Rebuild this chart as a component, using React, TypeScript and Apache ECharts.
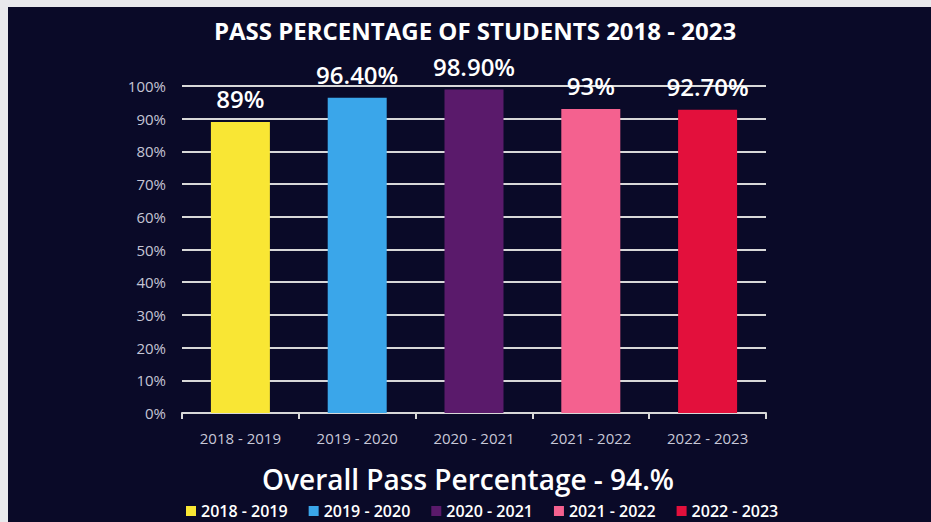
import React, { useEffect, useRef } from "react";
import * as echarts from "echarts";

const categories = ["2018 - 2019", "2019 - 2020", "2020 - 2021", "2021 - 2022", "2022 - 2023"];
const values = [89, 96.4, 98.9, 93, 92.7];
const valueLabels = ["89%", "96.40%", "98.90%", "93%", "92.70%"];
const colors = ["#f9e634", "#3aa6ea", "#5a1a6b", "#f4618f", "#e3103c"];
const titleText = "PASS PERCENTAGE OF STUDENTS 2018 - 2023";
const subtitleText = "Overall Pass Percentage - 94.%";

const FONT = "'Open Sans', 'Noto Sans', sans-serif";

export default function App() {
  const ref = useRef<HTMLDivElement>(null);
  useEffect(() => {
    document.body.style.margin = "0";
    const chart = echarts.init(ref.current!, undefined, { renderer: "svg" });
    const series = categories.map((name, i) => ({
      name,
      type: "bar",
      stack: "all",
      barWidth: 59,
      itemStyle: { color: colors[i] },
      data: values.map((v, j) => (j === i ? v : "-")),
      label: {
        show: true,
        position: "top",
        distance: 11,
        color: "#ffffff",
        fontSize: 24,
        fontWeight: 600,
        fontFamily: FONT,
        formatter: (p: any) => valueLabels[p.dataIndex],
      },
    }));
    chart.setOption({
      animation: false,
      backgroundColor: "#0a0a28",
      textStyle: { fontFamily: FONT },
      grid: { left: 174, top: 79, width: 584, height: 327, containLabel: false },
      xAxis: {
        type: "category",
        data: categories,
        boundaryGap: true,
        axisLine: { show: true, lineStyle: { color: "#d8d8d8", width: 2 } },
        axisTick: { show: true, length: 6, lineStyle: { color: "#d8d8d8", width: 2 } },
        axisLabel: { color: "#c8c8d8", fontSize: 15, margin: 17, fontFamily: FONT },
      },
      yAxis: {
        type: "value",
        min: 0,
        max: 100,
        interval: 10,
        axisLine: { show: false },
        axisTick: { show: false },
        splitLine: { show: true, lineStyle: { color: "#d8d8d8", width: 2 } },
        axisLabel: { color: "#c5c5d5", fontSize: 15, margin: 16, formatter: "{value}%", fontFamily: FONT },
      },
      legend: {
        left: 173,
        top: 491,
        icon: "rect",
        itemWidth: 10,
        itemHeight: 10,
        itemGap: 21,
        data: categories,
        textStyle: { color: "#ffffff", fontSize: 16, fontWeight: 600, fontFamily: FONT, lineHeight: 16 },
      },
      graphic: [
        {
          type: "text",
          x: 467,
          y: 23,
          style: {
            text: titleText,
            fill: "#ffffff",
            fontSize: 24,
            fontWeight: "bold",
            fontFamily: FONT,
            textAlign: "center",
            textVerticalAlign: "middle",
          },
        },
        {
          type: "text",
          x: 460,
          y: 472,
          style: {
            text: subtitleText,
            fill: "#ffffff",
            fontSize: 28,
            fontWeight: 600,
            fontFamily: FONT,
            textAlign: "center",
            textVerticalAlign: "middle",
          },
        },
      ],
      series,
    });
    return () => chart.dispose();
  }, []);
  return (
    <div
      style={{
        width: 931,
        height: 522,
        boxSizing: "border-box",
        paddingLeft: 8,
        paddingTop: 7,
        background: "#e9e9ec",
      }}
    >
      <div ref={ref} style={{ width: 923, height: 515 }} />
    </div>
  );
}
